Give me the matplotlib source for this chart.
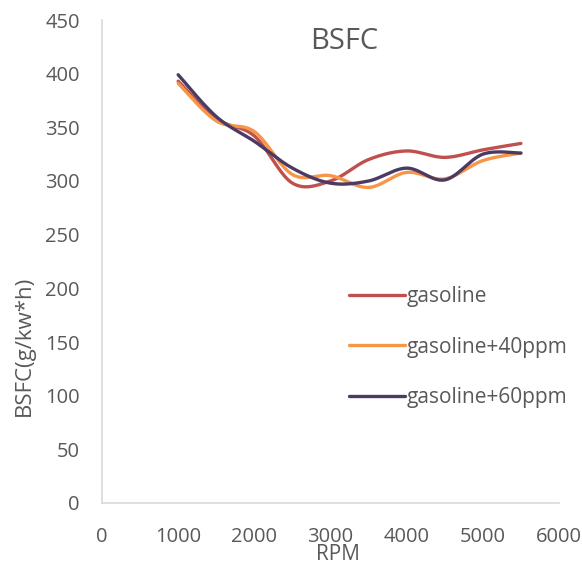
import numpy as np
import matplotlib
matplotlib.use("Agg")
import matplotlib.pyplot as plt

plt.rcParams['font.family'] = ['Open Sans', 'DejaVu Sans']

rpm = [1000, 1500, 2000, 2500, 3000, 3500, 4000, 4500, 5000, 5500]
bsfc_gasoline = [393, 358, 342, 298, 300, 320, 328, 322, 329, 335]
bsfc_40ppm = [391, 356, 346, 306, 305, 294, 308, 302, 319, 326]
bsfc_60ppm = [399, 360, 337, 312, 298, 300, 312, 301, 325, 326]

series = [
    ("gasoline", bsfc_gasoline, "#C0504D"),
    ("gasoline+40ppm", bsfc_40ppm, "#F79646"),
    ("gasoline+60ppm", bsfc_60ppm, "#4B3A63"),
]

TEXT = "#595959"


def smooth(xs, ys, n=30):
    # Catmull-Rom style bezier through every point (like spreadsheet smoothed lines)
    xs = np.asarray(xs, float)
    ys = np.asarray(ys, float)
    px = np.concatenate([[xs[0]], xs, [xs[-1]]])
    py = np.concatenate([[ys[0]], ys, [ys[-1]]])
    out_x, out_y = [], []
    t = np.linspace(0, 1, n)
    for i in range(1, len(px) - 2):
        p0 = np.array([px[i], py[i]])
        p3 = np.array([px[i + 1], py[i + 1]])
        p1 = p0 + (np.array([px[i + 1], py[i + 1]]) - np.array([px[i - 1], py[i - 1]])) / 6
        p2 = p3 - (np.array([px[i + 2], py[i + 2]]) - np.array([px[i], py[i]])) / 6
        b = ((1 - t) ** 3)[:, None] * p0 + (3 * (1 - t) ** 2 * t)[:, None] * p1 \
            + (3 * (1 - t) * t ** 2)[:, None] * p2 + (t ** 3)[:, None] * p3
        out_x.extend(b[:, 0])
        out_y.extend(b[:, 1])
    return out_x, out_y


fig = plt.figure(figsize=(5.82, 5.66), dpi=100)
ax = fig.add_axes([102 / 582, 1 - 503 / 566, (559 - 102) / 582, (503 - 20) / 566])

for label, vals, color in series:
    sx, sy = smooth(rpm, vals)
    ax.plot(sx, sy, color=color, lw=2.4, label=label, solid_capstyle='round')

ax.set_xlim(0, 6000)
ax.set_ylim(0, 450)
ax.set_xticks(range(0, 6001, 1000))
ax.set_yticks(range(0, 451, 50))
for side in ['top', 'right']:
    ax.spines[side].set_visible(False)
for side in ['left', 'bottom']:
    ax.spines[side].set_color('#D9D9D9')
    ax.spines[side].set_linewidth(1.2)
ax.tick_params(length=0, labelsize=14.5, labelcolor=TEXT)
ax.tick_params(axis='x', pad=17)
ax.tick_params(axis='y', pad=16)
for lbl in ax.get_xticklabels():
    lbl.set_clip_on(False)

ax.text(0.53, 0.955, "BSFC", transform=ax.transAxes, ha='center', va='center',
        fontsize=21, color=TEXT)
fig.text(338 / 582, 1 - 555 / 566, "RPM", ha='center', va='center', fontsize=15, color=TEXT)
fig.text(24 / 582, 1 - 346 / 566, "BSFC(g/kw*h)", ha='center', va='center',
         rotation=90, fontsize=16, color=TEXT)

ax.legend(loc='center left', bbox_to_anchor=(330 / 582, 1 - 347 / 566),
          bbox_transform=fig.transFigure, frameon=False, fontsize=15,
          labelcolor=TEXT, handlelength=2.7, handletextpad=0.1,
          labelspacing=1.42)

fig.savefig("out.png", dpi=100)
